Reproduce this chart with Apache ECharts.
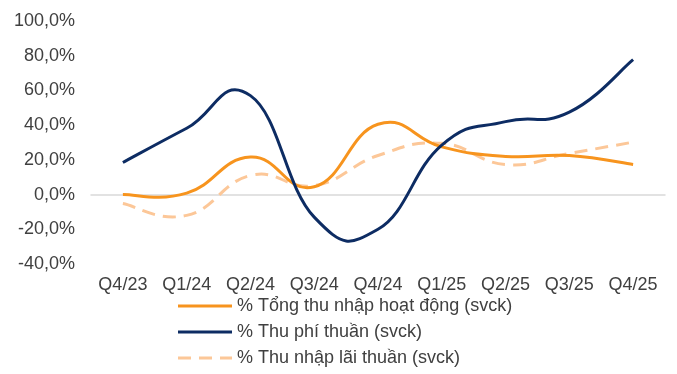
<!DOCTYPE html>
<html>
<head>
<meta charset="utf-8">
<script src="https://cdn.jsdelivr.net/npm/echarts@6/dist/echarts.min.js"></script>
<style>
  html, body { margin: 0; padding: 0; background: #ffffff; }
  #chart { width: 677px; height: 374px; }
</style>
</head>
<body>
<div id="chart"></div>
<script>
// Quarterly year-over-year growth (%)
const quarters = ['Q4/23', 'Q1/24', 'Q2/24', 'Q3/24', 'Q4/24', 'Q1/25', 'Q2/25', 'Q3/25', 'Q4/25'];
const totalOperatingIncome = [0.0, 0.8, 21.6, 4.5, 40.5, 27.5, 22.0, 22.5, 17.3];
const netFeeIncome = [18.5, 38.2, 57.0, -13.0, -20.0, 28.5, 42.0, 47.5, 77.7];
const netInterestIncome = [-5.2, -12.0, 11.0, 5.2, 22.5, 29.5, 17.3, 23.7, 30.2];

const seriesNames = [
  '% Tổng thu nhập hoạt động (svck)',
  '% Thu phí thuần (svck)',
  '% Thu nhập lãi thuần (svck)'
];

const textColor = '#404040';
const fontFamily = '"Liberation Sans", Arial, sans-serif';
const TENSION = 0.23;

const chart = echarts.init(document.getElementById('chart'), null, { renderer: 'canvas' });

// Spline through every point (cardinal-style Bezier), projected by the axes.
function splineRenderer(color, dashed) {
  return function (params, api) {
    if (params.dataIndexInside !== 0) return null;
    const n = params.dataInsideLength;
    const pts = [];
    for (let j = 0; j < n; j++) {
      pts.push(api.coord([api.value(0, j), api.value(1, j)]));
    }
    let d = 'M' + pts[0][0] + ' ' + pts[0][1];
    for (let j = 0; j < n - 1; j++) {
      const p0 = pts[Math.max(j - 1, 0)];
      const p1 = pts[j];
      const p2 = pts[j + 1];
      const p3 = pts[Math.min(j + 2, n - 1)];
      const c1x = p1[0] + (p2[0] - p0[0]) * TENSION;
      const c1y = p1[1] + (p2[1] - p0[1]) * TENSION;
      const c2x = p2[0] - (p3[0] - p1[0]) * TENSION;
      const c2y = p2[1] - (p3[1] - p1[1]) * TENSION;
      d += ' C' + c1x + ' ' + c1y + ' ' + c2x + ' ' + c2y + ' ' + p2[0] + ' ' + p2[1];
    }
    return {
      type: 'path',
      shape: { pathData: d },
      style: {
        fill: null,
        stroke: color,
        lineWidth: 3,
        lineDash: dashed ? [13, 8] : null,
        lineCap: 'butt',
        lineJoin: 'round'
      },
      silent: true
    };
  };
}

function splineSeries(name, values, color, dashed, z) {
  return {
    name: name,
    type: 'custom',
    z: z,
    data: values.map(function (v, i) { return [i, v]; }),
    encode: { x: 0, y: 1 },
    itemStyle: { color: color },
    renderItem: splineRenderer(color, dashed)
  };
}

const solidIcon = 'path://M0,0H54V3H0Z';
const dashedIcon = 'path://M0,0H13V3H0Z M21,0H34V3H21Z M42,0H54V3H42Z';

chart.setOption({
  animation: false,
  backgroundColor: '#ffffff',
  textStyle: { fontFamily: fontFamily },
  grid: { left: 91, right: 12, top: 21, bottom: 110, containLabel: false },
  legend: {
    orient: 'vertical',
    left: 178,
    top: 297,
    padding: 0,
    itemWidth: 54,
    itemHeight: 3,
    itemGap: 8,
    data: [
      { name: seriesNames[0], icon: solidIcon },
      { name: seriesNames[1], icon: solidIcon },
      { name: seriesNames[2], icon: dashedIcon }
    ],
    textStyle: { color: textColor, fontSize: 18, lineHeight: 18, fontFamily: fontFamily },
    selectedMode: false
  },
  xAxis: {
    type: 'category',
    data: quarters,
    boundaryGap: true,
    axisLine: { onZero: true, lineStyle: { color: '#d9d9d9', width: 1.5 } },
    axisTick: { show: false },
    axisLabel: { color: textColor, fontSize: 18, fontFamily: fontFamily, margin: 12, interval: 0 },
    splitLine: { show: false }
  },
  yAxis: {
    type: 'value',
    min: -40,
    max: 100,
    interval: 20,
    axisLine: { show: false },
    axisTick: { show: false },
    splitLine: { show: false },
    axisLabel: {
      color: textColor,
      fontSize: 18,
      fontFamily: fontFamily,
      margin: 16,
      formatter: function (v) { return v.toFixed(1).replace('.', ',') + '%'; }
    }
  },
  series: [
    splineSeries(seriesNames[0], totalOperatingIncome, '#f7941e', false, 3),
    splineSeries(seriesNames[1], netFeeIncome, '#0d2c63', false, 4),
    splineSeries(seriesNames[2], netInterestIncome, '#fcc798', true, 2)
  ]
});
</script>
</body>
</html>
